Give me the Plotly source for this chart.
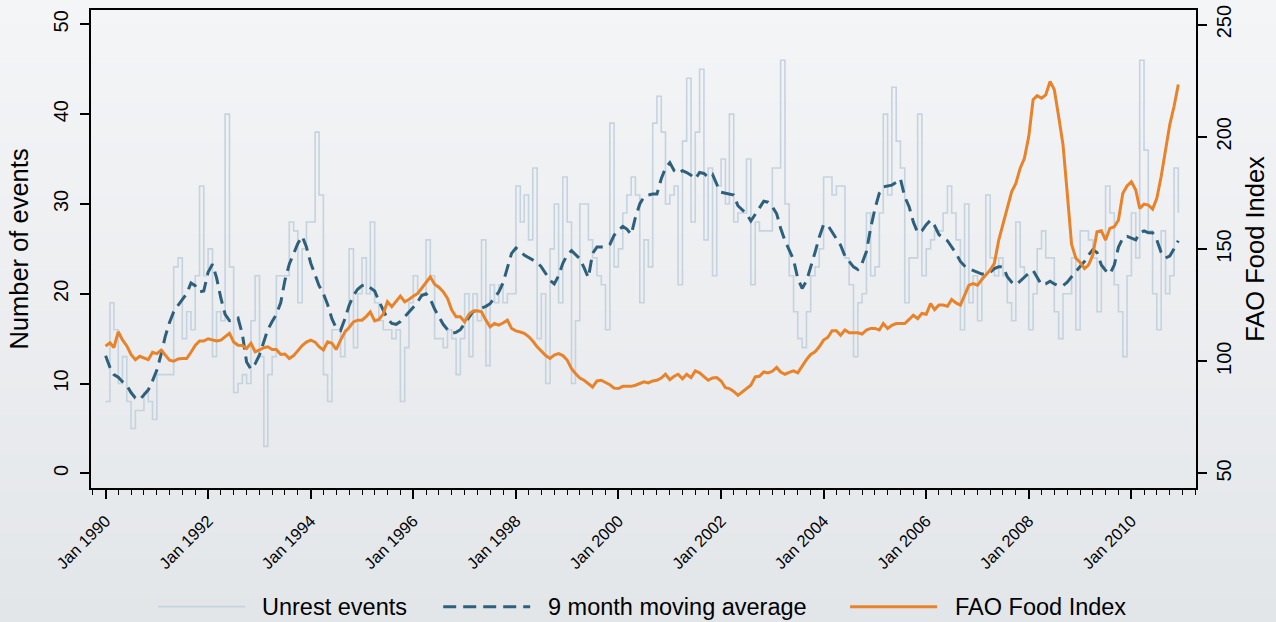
import pandas as pd
import plotly.graph_objects as go

# ---- data (monthly, Jan 1990 - Dec 2010) ----
start_month = "1990-01-01"

unrest_events = [
    8, 19, 16, 10, 13, 8, 5, 7, 7, 9, 8, 6,
    11, 11, 11, 11, 23, 24, 15, 18, 16, 22, 32, 22,
    25, 13, 18, 17, 40, 23, 9, 10, 11, 10, 17, 22,
    13, 3, 11, 13, 22, 22, 22, 28, 27, 19, 25, 28,
    28, 38, 31, 11, 8, 16, 16, 13, 16, 25, 14, 20,
    24, 20, 28, 19, 17, 16, 16, 15, 16, 8, 14, 19,
    22, 20, 20, 26, 22, 15, 15, 14, 16, 15, 11, 15,
    20, 13, 20, 17, 26, 12, 21, 19, 21, 19, 20, 20,
    32, 28, 31, 26, 34, 15, 20, 10, 25, 30, 19, 33,
    28, 10, 17, 30, 30, 26, 24, 22, 21, 16, 39, 23,
    25, 29, 31, 33, 31, 19, 26, 23, 39, 42, 38, 30,
    31, 32, 21, 37, 44, 28, 38, 45, 26, 34, 22, 32,
    35, 30, 40, 28, 29, 29, 35, 21, 28, 27, 27, 27,
    34, 34, 46, 30, 22, 18, 15, 14, 18, 22, 23, 25,
    33, 33, 31, 32, 32, 24, 21, 13, 19, 20, 29, 22,
    23, 29, 40, 31, 43, 37, 34, 19, 24, 24, 40, 22,
    25, 26, 27, 27, 29, 32, 29, 26, 16, 30, 19, 22,
    17, 22, 31, 24, 22, 24, 22, 19, 17, 28, 23, 22,
    16, 20, 25, 27, 24, 24, 18, 15, 20, 20, 24, 16,
    27, 27, 26, 24, 18, 23, 32, 29, 21, 18, 13, 22,
    29, 24, 46, 36, 27, 20, 16, 27, 20, 22, 34, 29,
]

moving_average_9m = [
    13.1, 11.8, 11.0, 10.7, 10.2, 9.8, 9.0, 8.4, 8.2, 8.7, 9.3, 10.3,
    11.5, 13.3, 15.2, 16.8, 18.0, 18.7, 19.3, 20.0, 21.2, 20.9, 20.2, 20.3,
    22.4, 23.3, 21.8, 19.5, 17.7, 17.0, 17.1, 17.3, 15.5, 12.4, 11.6, 12.2,
    13.2, 14.8, 16.0, 16.9, 17.7, 19.0, 21.5, 23.3, 24.5, 25.6, 26.4, 25.2,
    23.4, 22.2, 20.9, 20.0, 18.8, 17.2, 16.2, 15.9, 17.2, 18.7, 19.8, 20.5,
    20.9, 21.0, 20.7, 20.3, 19.2, 18.1, 17.2, 16.7, 16.6, 16.9, 17.4, 17.9,
    18.5, 19.1, 19.8, 20.0, 19.4, 18.3, 17.4, 16.6, 16.0, 15.6, 15.7, 16.0,
    16.7, 17.4, 18.0, 18.2, 18.4, 18.6, 18.9, 19.5, 20.2, 21.2, 22.8, 24.5,
    25.1, 24.8, 24.3, 24.0, 23.8, 23.5, 23.0, 22.3, 21.5, 21.1, 22.0, 23.4,
    24.3, 24.8, 24.4, 23.9, 22.9, 21.8, 24.5, 25.2, 25.2, 25.2, 25.5, 26.5,
    27.1, 27.5, 27.2, 26.6, 28.5, 30.0, 30.8, 31.0, 31.1, 31.1, 32.8, 34.0,
    34.6, 33.7, 33.4, 33.7, 33.5, 33.2, 32.8, 33.5, 33.4, 33.0, 33.3, 32.2,
    31.3, 31.2, 31.1, 31.0, 29.8, 29.3, 28.9, 28.1, 28.8, 29.6, 30.3, 30.2,
    29.7, 28.9, 27.3, 25.9, 24.9, 23.8, 21.7, 20.6, 21.4, 22.9, 24.6, 26.3,
    27.7, 27.6, 26.9, 26.2, 25.4, 24.2, 23.6, 23.0, 22.7, 23.4, 24.7, 27.3,
    29.5, 31.2, 31.9, 32.0, 32.1, 32.4, 32.8, 30.8, 29.7, 28.0, 26.8, 27.0,
    27.7, 28.2, 27.6, 26.6, 26.2, 25.9, 25.2, 24.5, 23.6, 23.1, 22.8, 22.6,
    22.4, 22.2, 22.2, 22.4, 22.8, 23.0, 23.0, 21.9, 21.3, 21.0, 21.4, 21.8,
    22.3, 22.6, 21.8, 21.0, 21.1, 21.4, 21.1, 20.9, 20.9, 21.3, 21.9, 22.5,
    23.0, 23.6, 24.3, 24.9, 24.6, 23.2, 22.6, 22.2, 23.2, 25.2, 26.2, 26.4,
    26.2, 26.0, 26.8, 27.0, 26.8, 26.8, 26.0, 24.6, 24.0, 24.2, 25.0, 25.9,
]

fao_food_index = [
    106.7, 108.2, 106.1, 113.1, 109.5, 106.8, 103.0, 100.7, 102.2, 101.5, 100.7, 104.0,
    103.4, 105.0, 103.0, 100.5, 100.0, 101.0, 101.2, 101.2, 104.0, 107.0, 109.0, 109.0,
    110.0, 109.5, 109.0, 109.4, 111.0, 112.4, 108.6, 107.1, 107.0, 105.7, 108.0, 104.2,
    105.0, 106.0, 106.4, 105.2, 105.2, 103.0, 103.2, 101.2, 102.5, 104.5, 107.0, 108.5,
    109.4, 108.5, 106.5, 105.0, 108.6, 108.0, 105.2, 109.4, 113.0, 115.0, 117.5, 118.3,
    118.3, 120.0, 122.0, 118.0, 118.6, 121.0, 126.5, 124.3, 126.5, 129.0, 126.5, 127.5,
    129.0, 130.2, 132.5, 135.0, 137.6, 134.3, 133.0, 131.0, 128.0, 122.8, 119.8, 119.8,
    117.5, 120.9, 122.3, 122.5, 122.0, 118.3, 115.3, 116.8, 116.1, 117.0, 118.3, 114.6,
    113.5, 113.0, 112.4, 111.0, 109.0, 106.4, 104.5, 102.5, 101.2, 102.7, 103.4, 102.5,
    100.5, 96.7, 94.5, 92.5, 91.5, 90.0, 88.5, 91.2, 91.5, 90.5, 89.5, 88.0,
    87.8, 88.8, 88.8, 88.8, 89.3, 90.0, 90.8, 90.3, 91.2, 91.5, 92.5, 94.2,
    91.8, 93.3, 94.2, 92.2, 94.2, 92.7, 95.7, 94.8, 93.0, 91.5, 92.5, 92.7,
    91.2, 88.2, 87.8, 86.5, 84.8, 86.3, 88.0, 89.3, 93.0, 93.3, 95.2, 94.8,
    95.5, 97.2, 95.2, 94.2, 95.0, 95.7, 94.8, 97.8, 100.7, 103.0, 104.2, 106.4,
    109.4, 110.7, 113.6, 113.6, 111.6, 113.9, 112.7, 112.7, 112.7, 112.1, 113.9, 114.6,
    114.6, 113.9, 116.8, 114.6, 116.0, 116.8, 116.8, 116.8, 118.6, 120.5, 119.0, 121.3,
    120.9, 125.7, 123.0, 125.0, 125.0, 124.5, 127.5, 126.0, 125.0, 129.0, 133.9, 134.6,
    133.9, 136.4, 138.4, 140.6, 143.6, 153.9, 161.0, 168.0, 175.5, 179.2, 186.0, 190.4,
    200.1, 216.5, 218.3, 217.2, 218.7, 224.7, 221.0, 209.0, 196.4, 175.0, 152.0, 146.0,
    144.0, 141.3, 142.8, 147.3, 157.7, 158.1, 154.0, 159.2, 159.9, 162.9, 174.8, 178.1,
    180.0, 176.3, 168.1, 170.0, 169.6, 167.8, 172.6, 182.3, 194.9, 205.4, 213.6, 223.3,
]

series_names = ["Unrest events", "9 month moving average", "FAO Food Index"]
left_title = "Number of events"
right_title = "FAO Food Index"

assert len(unrest_events) == len(moving_average_9m) == len(fao_food_index)
months = pd.date_range(start_month, periods=len(unrest_events), freq="MS")

# ---- styles ----
FONT = "Liberation Sans, Arial, Helvetica, sans-serif"
W, H = 1276, 622
ML, MR, MT, MB = 90.7, 80.0, 10.0, 133.7
PW, PH = W - ML - MR, H - MT - MB
unrest_style = dict(color="#c5d3df", width=1.6)
ma_style = dict(color="#2f607b", width=3, dash="13px,7px")
fao_style = dict(color="#e8832a", width=3)


def px_to_paper_x(px):
    return (px - ML) / PW


def px_to_paper_y(py):
    return (H - MB - py) / PH


fig = go.Figure()
fig.add_trace(go.Scatter(x=months, y=unrest_events, name=series_names[0],
                         mode="lines", line=dict(shape="hv", **unrest_style)))
fig.add_trace(go.Scatter(x=months, y=moving_average_9m, name=series_names[1],
                         mode="lines", line=ma_style))
fig.add_trace(go.Scatter(x=months, y=fao_food_index, name=series_names[2],
                         mode="lines", yaxis="y2", line=fao_style))

# subtle vertical gradient background
top_rgb = (244, 245, 247)
bot_rgb = (227, 230, 233)
n_bands = 48
y_top, y_bot = px_to_paper_y(-2), px_to_paper_y(H + 2)
shapes = []
for i in range(n_bands):
    f = i / (n_bands - 1)
    c = tuple(round(top_rgb[k] + (bot_rgb[k] - top_rgb[k]) * f) for k in range(3))
    ya = y_top - (y_top - y_bot) * i / n_bands
    yb = y_top - (y_top - y_bot) * (i + 1) / n_bands
    shapes.append(dict(type="rect", xref="paper", yref="paper",
                       x0=px_to_paper_x(-5), x1=px_to_paper_x(W + 5),
                       y0=yb - 0.002, y1=ya,
                       fillcolor="rgb(%d,%d,%d)" % c, line=dict(width=0),
                       layer="below"))

# manual legend (long line samples as in the original)
legend_y_px = 607
legend_items = [
    (158, 245, 260, unrest_style),
    (443, 530, 546, ma_style),
    (850, 937, 953, fao_style),
]
annotations = []
for (lx0, lx1, tx, st), name in zip(legend_items, series_names):
    shapes.append(dict(type="line", xref="paper", yref="paper",
                       x0=px_to_paper_x(lx0), x1=px_to_paper_x(lx1),
                       y0=px_to_paper_y(legend_y_px), y1=px_to_paper_y(legend_y_px),
                       line=dict(color=st["color"], width=st["width"],
                                 dash=st.get("dash", "solid"))))
    annotations.append(dict(xref="paper", yref="paper", x=px_to_paper_x(tx),
                            y=px_to_paper_y(legend_y_px), xanchor="left",
                            yanchor="middle", showarrow=False, text=name,
                            font=dict(size=23.5, family=FONT, color="#000000")))

fig.update_layout(
    width=W, height=H,
    margin=dict(l=ML, r=MR, t=MT, b=MB, autoexpand=False),
    paper_bgcolor="rgb(236,238,240)",
    plot_bgcolor="rgba(0,0,0,0)",
    font=dict(family=FONT, color="#000000"),
    shapes=shapes,
    annotations=annotations,
    showlegend=False,
    xaxis=dict(
        type="date",
        range=["1989-09-19", "2011-04-06"],
        tick0="1990-01-01", dtick="M24", tickformat="%b %Y",
        tickangle=-45, tickfont=dict(size=16.5),
        ticks="outside", ticklen=9, tickwidth=1.5, tickcolor="#000000",
        ticklabelstandoff=6,
        minor=dict(dtick="M3", ticks="outside", ticklen=5, tickwidth=1.2,
                   tickcolor="#000000", showgrid=False),
        showline=True, linecolor="#000000", linewidth=1.5, mirror=True,
        showgrid=False, zeroline=False,
    ),
    yaxis=dict(
        range=[-1.63, 51.6], tick0=0, dtick=10,
        tickangle=-90, tickfont=dict(size=20),
        ticks="outside", ticklen=9, tickwidth=1.5, tickcolor="#000000",
        ticklabelstandoff=4,
        showline=True, linecolor="#000000", linewidth=1.5,
        showgrid=False, zeroline=False,
        title=dict(text=left_title, font=dict(size=25.5), standoff=14),
    ),
    yaxis2=dict(
        overlaying="y", side="right",
        range=[43.5, 256.5], tick0=50, dtick=50,
        tickangle=-90, tickfont=dict(size=20),
        ticks="outside", ticklen=9, tickwidth=1.5, tickcolor="#000000",
        showline=True, linecolor="#000000", linewidth=1.5,
        showgrid=False, zeroline=False,
        title=dict(text=right_title, font=dict(size=25.5), standoff=12),
    ),
)

fig.write_html("out.html", config={"displayModeBar": False},
               post_script="document.body.style.margin='0';")
